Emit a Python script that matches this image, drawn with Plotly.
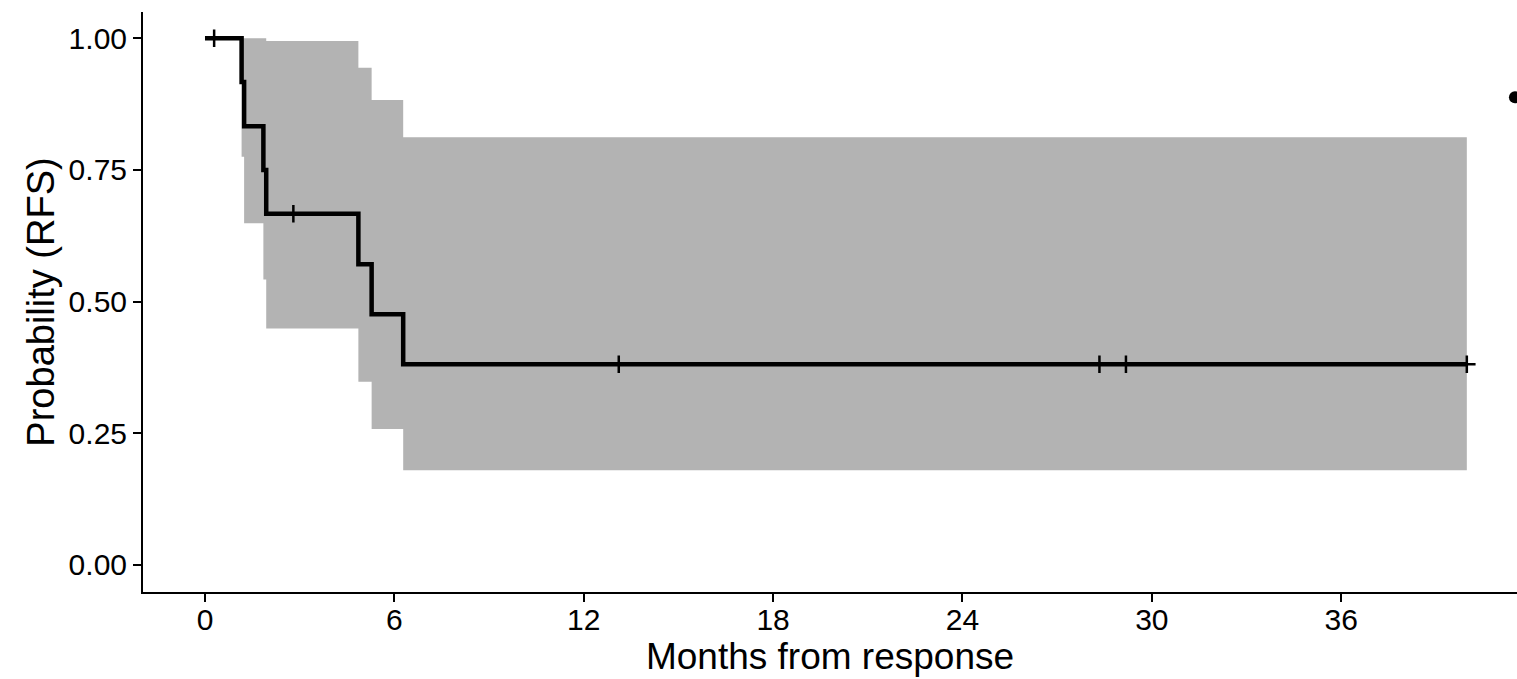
import plotly.graph_objects as go

# Kaplan-Meier estimate of relapse-free survival (months from response)
event_times = [0, 1.16, 1.24, 1.85, 1.94, 4.86, 5.28, 6.28, 39.98]
surv_prob = [1.0, 0.917, 0.833, 0.750, 0.667, 0.571, 0.476, 0.381, 0.381]
ci_upper = [1.0, 1.0, 1.0, 1.0, 0.995, 0.944, 0.883, 0.812, 0.812]
ci_lower = [1.0, 0.775, 0.649, 0.542, 0.449, 0.348, 0.258, 0.180, 0.180]

# censored observations
censor_times = [0.29, 2.80, 13.11, 28.34, 29.18, 39.98]
censor_prob = [1.0, 0.667, 0.381, 0.381, 0.381, 0.381]

x_ticks = [0, 6, 12, 18, 24, 30, 36]
y_ticks = [0.0, 0.25, 0.5, 0.75, 1.0]
y_tick_text = ["0.00", "0.25", "0.50", "0.75", "1.00"]

FONT = "Liberation Sans, Arial, sans-serif"

fig = go.Figure()

# confidence band
fig.add_trace(go.Scatter(
    x=event_times, y=ci_upper, mode="lines", line=dict(width=0, shape="hv"),
    hoverinfo="skip", showlegend=False,
))
fig.add_trace(go.Scatter(
    x=event_times, y=ci_lower, mode="lines", line=dict(width=0, shape="hv"),
    fill="tonexty", fillcolor="rgb(179,179,179)",
    hoverinfo="skip", showlegend=False,
))

# survival curve
fig.add_trace(go.Scatter(
    x=event_times, y=surv_prob, mode="lines",
    line=dict(color="black", width=4.5, shape="hv"),
    showlegend=False,
))

# censor marks
fig.add_trace(go.Scatter(
    x=censor_times, y=censor_prob, mode="markers",
    marker=dict(symbol="cross-thin", size=12.5, line=dict(color="black", width=2.5)),
    showlegend=False, cliponaxis=False,
))

# legend key glyph at the right edge
fig.add_shape(
    type="circle", xref="paper", yref="paper",
    xsizemode="pixel", ysizemode="pixel",
    xanchor=0.9985, yanchor=0.853,
    x0=-6, x1=6, y0=-6, y1=6,
    fillcolor="black", line=dict(width=0),
)

axis_common = dict(
    showline=True, linecolor="black", linewidth=2,
    ticks="outside", ticklen=8, tickwidth=2, tickcolor="black",
    showgrid=False, zeroline=False,
    tickfont=dict(family=FONT, size=30, color="black"),
)

fig.update_layout(
    width=1517, height=679,
    margin=dict(l=143, r=0, t=12, b=87),
    paper_bgcolor="white", plot_bgcolor="white",
    xaxis=dict(
        range=[-1.964, 41.57], tickvals=x_ticks, ticklabelstandoff=-8,
        title=dict(text="Months from response", standoff=2,
                   font=dict(family=FONT, size=37, color="black")),
        **axis_common,
    ),
    yaxis=dict(
        range=[-0.0513, 1.0499], tickvals=y_ticks, ticktext=y_tick_text,
        title=dict(text="Probability (RFS)", standoff=2,
                   font=dict(family=FONT, size=38, color="black")),
        **axis_common,
    ),
)

fig.write_html("out.html")
